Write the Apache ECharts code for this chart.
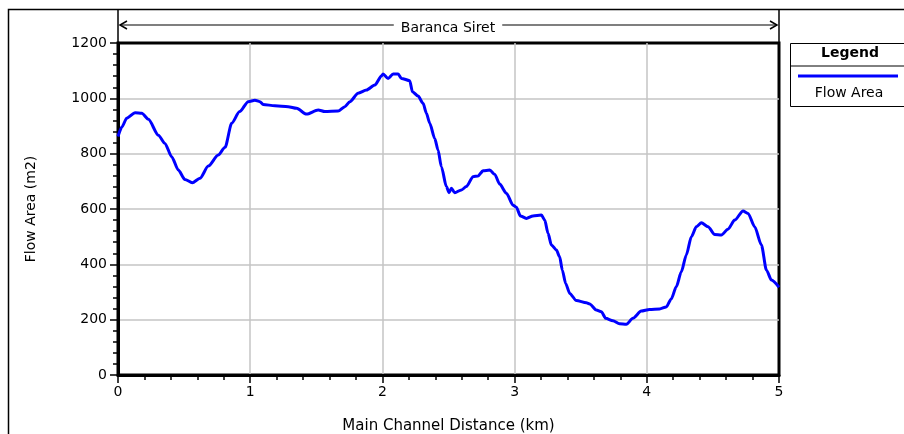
<!DOCTYPE html>
<html>
<head>
<meta charset="utf-8">
<script src="https://cdn.jsdelivr.net/npm/echarts@6/dist/echarts.min.js"></script>
<style>
  html, body { margin: 0; padding: 0; background: #fff; }
  #chart { width: 904px; height: 434px; }
</style>
</head>
<body>
<div id="chart"></div>
<script>
// main channel distance (km) and flow area (m2)
const distance = [
  0.0, 0.03, 0.066, 0.13, 0.18, 0.23, 0.305, 0.355, 0.406, 0.456, 0.506, 0.562, 0.62, 0.683, 0.758, 0.81, 0.86, 0.92, 0.985,
  1.036, 1.073, 1.098, 1.187, 1.287, 1.351, 1.426, 1.514, 1.565, 1.665, 1.716, 1.754, 1.816, 1.88, 1.943, 1.993,
  2.005, 2.043, 2.081, 2.119, 2.144, 2.207, 2.227, 2.27, 2.308, 2.333, 2.358, 2.396, 2.421, 2.446, 2.484, 2.504, 2.522, 2.547,
  2.598, 2.635, 2.686, 2.723, 2.761, 2.812, 2.85, 2.887, 2.938, 2.988,
  3.013, 3.044, 3.089, 3.139, 3.203, 3.228, 3.253, 3.278, 3.316, 3.341, 3.361, 3.386, 3.417, 3.467, 3.543, 3.568,
  3.618, 3.656, 3.689, 3.744, 3.794, 3.845, 3.895, 3.958,
  4.021, 4.097, 4.147, 4.185, 4.223, 4.261, 4.299, 4.337, 4.375, 4.413, 4.463, 4.514, 4.564, 4.614, 4.665, 4.728,
  4.766, 4.816, 4.867, 4.905, 4.943, 5.0
];
const flowArea = [
  862, 897, 928, 948, 946, 924, 867, 837, 789, 741, 707, 695, 711, 755, 795, 823, 910, 952, 988,
  993, 988, 978, 973, 970, 964, 943, 958, 952, 954, 970, 988, 1018, 1030, 1048, 1081,
  1088, 1072, 1088, 1088, 1072, 1064, 1024, 1008, 982, 946, 910, 855, 813, 753, 681, 659, 675, 659,
  669, 681, 717, 719, 738, 741, 725, 690, 657, 614,
  606, 575, 566, 575, 578, 560, 512, 470, 452, 427, 379, 331, 295, 269, 261, 257,
  235, 229, 205, 196, 185, 183, 205, 231,
  237, 239, 246, 275, 319, 373, 434, 500, 536, 550, 536, 508, 506, 527, 560, 593,
  584, 536, 470, 379, 343, 317
];
const xTicks = { min: 0, max: 5, step: 1 };
const yTicks = { min: 0, max: 1200, step: 200 };

const FONT = "DejaVu Sans";

let myChart = echarts.init(document.getElementById("chart"));

let seriesData = [];
distance.forEach((d, i) => {
  seriesData.push([d, flowArea[i]]);
});

function axisStyle() {
  return {
    axisLine: { show: true, onZero: false, lineStyle: { color: "#000", width: 3 } },
    axisTick: { show: true, length: 8, lineStyle: { color: "#000", width: 1.5 } },
    minorTick: { show: true, splitNumber: 5, length: 5, lineStyle: { color: "#000", width: 1.5 } },
    splitLine: { show: true, showMinLine: false, showMaxLine: false, lineStyle: { color: "#c4c4c4", width: 1.5 } },
    minorSplitLine: { show: false },
  };
}

myChart.setOption({
  animation: false,
  backgroundColor: "#fff",
  grid: {
    left: 118,
    right: 125,
    top: 43,
    bottom: 59,
    outerBoundsMode: "none",
    show: true,
    borderColor: "#000",
    borderWidth: 3,
  },
  xAxis: Object.assign(axisStyle(), {
    type: "value",
    min: xTicks.min,
    max: xTicks.max,
    interval: xTicks.step,
    axisLabel: { color: "#000", fontFamily: FONT, fontSize: 14, margin: 10 },
    name: "Main Channel Distance (km)",
    nameLocation: "middle",
    nameGap: 44,
    nameTextStyle: { color: "#000", fontFamily: FONT, fontSize: 15 },
  }),
  yAxis: Object.assign(axisStyle(), {
    type: "value",
    min: yTicks.min,
    max: yTicks.max,
    interval: yTicks.step,
    axisLabel: {
      color: "#000",
      fontFamily: FONT,
      fontSize: 14,
      margin: 11,
      formatter: function (v) {
        return String(v);
      },
    },
    name: "Flow Area (m2)",
    nameLocation: "middle",
    nameGap: 80,
    nameTextStyle: { color: "#000", fontFamily: FONT, fontSize: 14 },
  }),
  series: [
    {
      name: "Flow Area",
      type: "line",
      data: seriesData,
      showSymbol: false,
      smooth: 0.25,
      smoothMonotone: "x",
      lineStyle: { color: "#0000ff", width: 3 },
      z: 3,
    },
  ],
  graphic: [
    // outer frame (left + top)
    { type: "polyline", shape: { points: [[8.5, 434], [8.5, 9.5], [904, 9.5]] }, style: { stroke: "#000", lineWidth: 1.5, fill: null } },
    // header band sides
    { type: "line", shape: { x1: 118, y1: 9, x2: 118, y2: 43 }, style: { stroke: "#000", lineWidth: 1.5 } },
    { type: "line", shape: { x1: 779, y1: 9, x2: 779, y2: 43 }, style: { stroke: "#000", lineWidth: 1.5 } },
    // reach arrow
    { type: "line", shape: { x1: 120, y1: 25, x2: 777, y2: 25 }, style: { stroke: "#000", lineWidth: 1.2 } },
    { type: "polyline", shape: { points: [[127, 21], [120, 25], [127, 29]] }, style: { stroke: "#000", lineWidth: 1.5, fill: null } },
    { type: "polyline", shape: { points: [[770, 21], [777, 25], [770, 29]] }, style: { stroke: "#000", lineWidth: 1.5, fill: null } },
    {
      type: "text",
      z: 10,
      style: {
        text: "Baranca Siret",
        x: 448,
        y: 28,
        align: "center",
        verticalAlign: "middle",
        font: "14px " + FONT,
        fill: "#000",
        backgroundColor: "#fff",
        padding: [2, 7],
      },
    },
    // legend box
    { type: "rect", shape: { x: 790.5, y: 43.5, width: 120, height: 63 }, style: { stroke: "#000", lineWidth: 1, fill: "#fff" } },
    { type: "line", shape: { x1: 790, y1: 66, x2: 904, y2: 66 }, style: { stroke: "#000", lineWidth: 1 } },
    {
      type: "text",
      style: { text: "Legend", x: 850, y: 53, align: "center", verticalAlign: "middle", font: "bold 14px " + FONT, fill: "#000" },
    },
    { type: "line", shape: { x1: 798, y1: 76, x2: 898, y2: 76 }, style: { stroke: "#0000ff", lineWidth: 3 } },
    {
      type: "text",
      style: { text: "Flow Area", x: 849, y: 93, align: "center", verticalAlign: "middle", font: "14px " + FONT, fill: "#000" },
    },
  ],
});
window.addEventListener("resize", function () {
  myChart.resize();
});
</script>
</body>
</html>
